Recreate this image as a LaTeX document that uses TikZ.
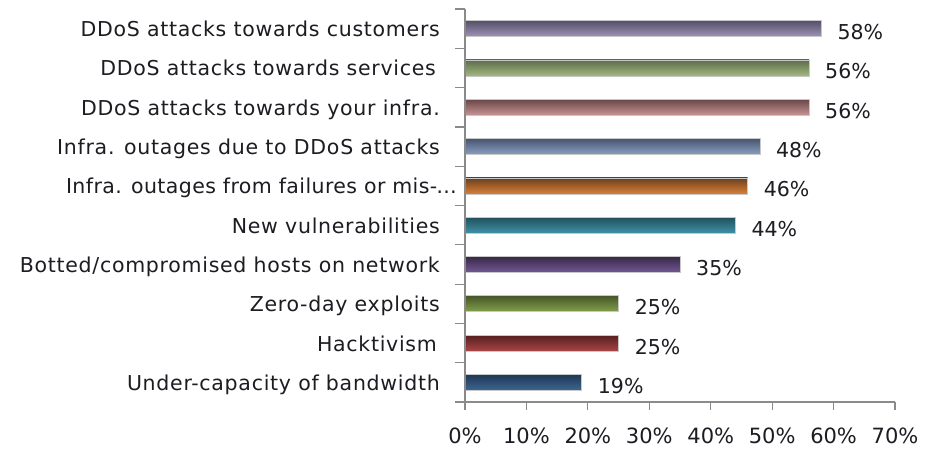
\documentclass[tikz,border=0pt]{standalone}
\usepackage{fontspec}
\setmainfont{DejaVu Sans}
\newfontfamily\catfont[LetterSpace=3.5]{DejaVu Sans}
\newfontfamily\catfonttight[LetterSpace=2]{DejaVu Sans}

\definecolor{labelink}{HTML}{1C1C22}
\definecolor{axisgray}{HTML}{8A8A8A}
\definecolor{rimgray}{HTML}{C8C8C8}
% bar shades: top (dark) and bottom (light) of each bar
\definecolor{purpleT}{HTML}{545069}\definecolor{purpleB}{HTML}{A293B8}
\definecolor{sageT}{HTML}{5D6C4A}\definecolor{sageB}{HTML}{A2B880}
\definecolor{roseT}{HTML}{684646}\definecolor{roseB}{HTML}{C99494}
\definecolor{slateT}{HTML}{485470}\definecolor{slateB}{HTML}{8AA0C2}
\definecolor{amberT}{HTML}{6B3E1C}\definecolor{amberB}{HTML}{D8803A}
\definecolor{tealT}{HTML}{22505C}\definecolor{tealB}{HTML}{3E92A6}
\definecolor{plumT}{HTML}{382846}\definecolor{plumB}{HTML}{735896}
\definecolor{oliveT}{HTML}{465626}\definecolor{oliveB}{HTML}{82A04C}
\definecolor{brickT}{HTML}{561E1E}\definecolor{brickB}{HTML}{A84646}
\definecolor{navyT}{HTML}{1E3856}\definecolor{navyB}{HTML}{3E6690}

% one category row: #1 index, #2 label, #3 value, #4 top colour, #5 bottom colour, #6 label right edge
\newcommand\surveyrow[6]{%
  \pgfmathsetmacro\rowy{28.65+39.3*#1}%
  \pgfmathsetmacro\barw{6.143*#3}%
  \node[catlabel] (lab#1) at (#6,\rowy+8) {#2};
  \node[barbox, top color=#4, bottom color=#5, minimum width=\barw pt] (bar#1) at (465,\rowy) {};
  \node[vallabel] (val#1) at ([xshift=16pt]bar#1.east |- 0,\rowy+11) {#3\%};
}

\begin{document}
\begin{tikzpicture}[x=1pt, y=-1pt,
  catlabel/.style={anchor=base east, inner sep=0pt, text=labelink, font=\catfont\fontsize{20.5}{24}\selectfont},
  vallabel/.style={anchor=base west, inner sep=0pt, text=labelink, font=\fontsize{20.5}{24}\selectfont},
  ticklabel/.style={anchor=base, inner sep=0pt, text=labelink, font=\fontsize{21}{24}\selectfont},
  axisline/.style={draw=axisgray, line width=1.2pt},
  barbox/.style={anchor=west, inner sep=0pt, outer sep=0pt, minimum height=16pt, draw=rimgray, line width=0.7pt}]
\useasboundingbox[fill=white] (0,0) rectangle (925,448);

\surveyrow{0}{DDoS attacks towards customers}{58}{purpleT}{purpleB}{440}
\surveyrow{1}{DDoS attacks towards services}{56}{sageT}{sageB}{436}
\surveyrow{2}{DDoS attacks towards your infra.}{56}{roseT}{roseB}{440}
\surveyrow{3}{Infra. outages due to DDoS attacks}{48}{slateT}{slateB}{440}
\surveyrow{4}{\catfonttight Infra. outages from failures or mis-{\rmfamily\kern-1pt…}}{46}{amberT}{amberB}{457}
\surveyrow{5}{New vulnerabilities}{44}{tealT}{tealB}{440}
\surveyrow{6}{Botted/compromised hosts on network}{35}{plumT}{plumB}{440}
\surveyrow{7}{Zero-day exploits}{25}{oliveT}{oliveB}{440}
\surveyrow{8}{Hacktivism}{25}{brickT}{brickB}{437}
\surveyrow{9}{Under-capacity of bandwidth}{19}{navyT}{navyB}{440}

% axes
\coordinate (ytop) at (465,9);
\coordinate (origin) at (465,402);
\coordinate (xend) at (895,402);
\draw[axisline] (ytop) -- (origin) -- (xend);

% category separators on the vertical axis
\foreach \k in {0,...,10}
  \draw[axisline] ({455},{9+39.3*\k}) -- ({465},{9+39.3*\k});

% percentage ticks and labels
\foreach \t in {0,...,7}{
  \pgfmathtruncatemacro\pc{10*\t}
  \draw[axisline] ({465+61.43*\t},402) -- ({465+61.43*\t},410);
  \node[ticklabel] (tick\t) at ({465+61.43*\t},443) {\pc\%};
}
\end{tikzpicture}
\end{document}
